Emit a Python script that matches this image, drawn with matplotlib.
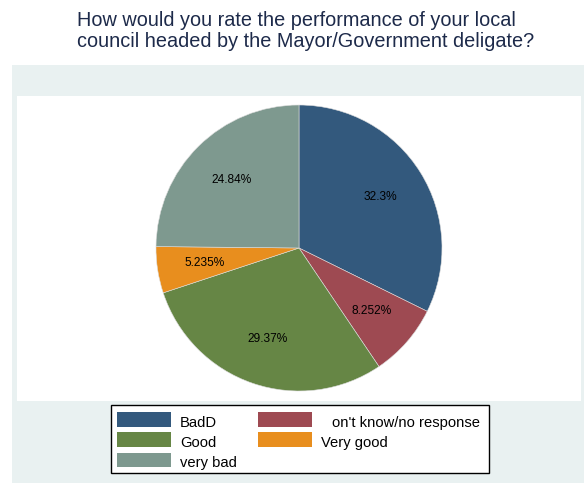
import matplotlib
matplotlib.use("Agg")
import matplotlib.pyplot as plt
from matplotlib.patches import Rectangle
import numpy as np

# data
categories = ["BadD", "on't know/no response", "Good", "Very good", "very bad"]
shares = [32.3, 8.252, 29.37, 5.235, 24.84]
colors = ["#33597D", "#9E4A52", "#668645", "#E88E1E", "#7E998F"]
title_lines = ["How would you rate the performance of your local",
               "council headed by the Mayor/Government deligate?"]

plt.rcParams['font.family'] = ['Liberation Sans', 'DejaVu Sans']

W, H = 585, 483
fig = plt.figure(figsize=(W / 100, H / 100), dpi=100)
fig.patch.set_facecolor("white")

def fx(x):
	return x / W

def fy(y):
	return 1 - y / H

# outer tinted panel and white plot region
fig.patches.append(Rectangle((fx(12), fy(483)), fx(584) - fx(12), fy(65) - fy(483),
                             transform=fig.transFigure, facecolor="#E9F1F1", edgecolor="none", zorder=-10))
fig.patches.append(Rectangle((fx(17), fy(401)), fx(581) - fx(17), fy(96) - fy(401),
                             transform=fig.transFigure, facecolor="white", edgecolor="none", zorder=-9))

# title
fig.text(fx(77), fy(25.5), title_lines[0], fontsize=14.3, color="#1D2A4A", va="baseline", ha="left")
fig.text(fx(77), fy(47), title_lines[1], fontsize=14.3, color="#1D2A4A", va="baseline", ha="left")

# pie
ax = fig.add_axes([fx(156), fy(391), fx(442) - fx(156), fy(105) - fy(391)])
ax.set_zorder(5)
wedges, _ = ax.pie(shares, colors=colors, startangle=90, counterclock=False,
                   wedgeprops=dict(edgecolor="#DDDDDD", linewidth=0.4))
for w, v in zip(wedges, shares):
	ang = np.deg2rad((w.theta1 + w.theta2) / 2)
	r = 0.67
	ax.text(r * np.cos(ang), r * np.sin(ang), f"{v:g}%", ha="center", va="center", fontsize=8.6, color="black")
ax.set_xlim(-1, 1)
ax.set_ylim(-1, 1)
ax.set_aspect("equal")
ax.axis("off")

# legend built by hand to match the Stata layout
fig.patches.append(Rectangle((fx(111), fy(473)), fx(489) - fx(111), fy(405) - fy(473),
                             transform=fig.transFigure, facecolor="white", edgecolor="black", linewidth=1.0, zorder=1))
rows = [(412, 427), (432, 447), (453, 467)]
slots = [(0, 0), (0, 1), (1, 0), (1, 1), (2, 0)]
swatch_x = [(117, 171), (258, 312)]
text_x = {0: 180, 1: 332, 2: 180, 3: 321, 4: 180}
for i, (lab, col) in enumerate(zip(categories, colors)):
	r, c = slots[i]
	y0, y1 = rows[r]
	x0, x1 = swatch_x[c]
	fig.patches.append(Rectangle((fx(x0), fy(y1)), fx(x1) - fx(x0), fy(y0) - fy(y1),
	                             transform=fig.transFigure, facecolor=col, edgecolor="none", zorder=2))
	fig.text(fx(text_x[i]), fy(y1), lab, fontsize=10.6, color="black", va="baseline", ha="left", zorder=3)

fig.savefig("out.png", dpi=100)
